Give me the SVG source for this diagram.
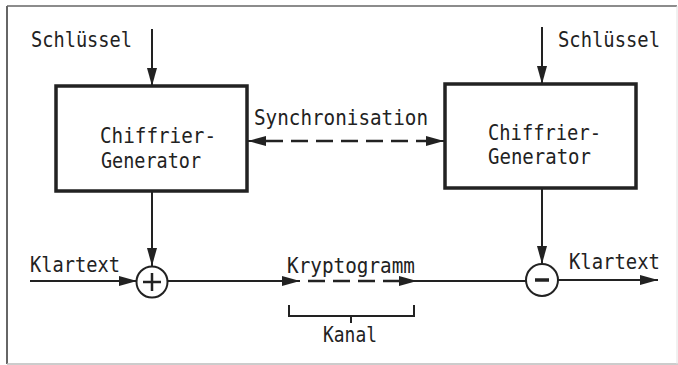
<svg xmlns="http://www.w3.org/2000/svg" width="678" height="365" viewBox="0 0 678 365">
<defs>
<marker id="ah" viewBox="0 0 18 10" refX="18" refY="5" markerWidth="18" markerHeight="10" markerUnits="userSpaceOnUse" orient="auto">
<path d="M0,0 L18,5 L0,10 Z" fill="#222"/>
</marker>
</defs>
<style>
.t{font-family:"DejaVu Sans Mono","Liberation Mono",monospace;font-size:21px;fill:#222}
.ln{stroke:#222;stroke-width:2;fill:none}
.box{stroke:#222;stroke-width:3.5;fill:#fff}
.dash{stroke:#222;stroke-width:2.5;fill:none;stroke-dasharray:17 8}
.frame{stroke:#666;fill:none}
</style>
<rect width="678" height="365" fill="#fff"/>
<g id="frame">
<line class="frame" x1="7" y1="6" x2="677" y2="6" stroke-width="1.5"/>
<line class="frame" x1="7" y1="6" x2="7" y2="364" stroke-width="2"/>
<line x1="7" y1="364" x2="678" y2="364" stroke="#bbb" stroke-width="1.5"/>
<line x1="677" y1="6" x2="677" y2="364" stroke="#e2e2e2" stroke-width="1"/>
</g>
<g id="connectors">
<line class="ln" x1="152" y1="29" x2="152" y2="86" marker-end="url(#ah)"/>
<line class="ln" x1="542" y1="27" x2="542" y2="84" marker-end="url(#ah)"/>
<line class="ln" x1="152" y1="191" x2="152" y2="266" marker-end="url(#ah)"/>
<line class="ln" x1="542" y1="188" x2="542" y2="264" marker-end="url(#ah)"/>
<line class="ln" x1="30" y1="281" x2="137" y2="281" marker-end="url(#ah)"/>
<line class="ln" x1="168" y1="281" x2="300" y2="281" marker-end="url(#ah)"/>
<line class="dash" x1="308" y1="281" x2="400" y2="281" stroke-width="2" stroke-dasharray="10 7"/>
<line class="ln" x1="402" y1="281" x2="417" y2="281" marker-end="url(#ah)"/>
<line class="ln" x1="415" y1="281" x2="526" y2="281"/>
<line class="ln" x1="558" y1="280" x2="658" y2="280" marker-end="url(#ah)"/>
<line class="dash" x1="266" y1="141" x2="428" y2="141"/>
<line class="ln" x1="262" y1="141" x2="248" y2="141" marker-end="url(#ah)" stroke-width="2.5"/>
<line class="ln" x1="430" y1="141" x2="444" y2="141" marker-end="url(#ah)" stroke-width="2.5"/>
<path class="ln" d="M289,305 V316 H414 V305 M351,316 V323"/>
</g>
<g id="keyL"><text class="t" x="31" y="47" textLength="101" lengthAdjust="spacingAndGlyphs">Schlüssel</text></g>
<g id="keyR"><text class="t" x="558" y="47" textLength="102" lengthAdjust="spacingAndGlyphs">Schlüssel</text></g>
<g id="genL">
<rect class="box" x="56" y="86" width="191" height="105"/>
<text class="t" x="100" y="143" textLength="116" lengthAdjust="spacingAndGlyphs">Chiffrier-</text>
<text class="t" x="101" y="168" textLength="100" lengthAdjust="spacingAndGlyphs">Generator</text>
</g>
<g id="genR">
<rect class="box" x="445" y="84" width="191" height="104"/>
<text class="t" x="488" y="140" textLength="113" lengthAdjust="spacingAndGlyphs">Chiffrier-</text>
<text class="t" x="488" y="164" textLength="103" lengthAdjust="spacingAndGlyphs">Generator</text>
</g>
<g id="sync"><text class="t" x="254" y="125" textLength="174" lengthAdjust="spacingAndGlyphs">Synchronisation</text></g>
<g id="plus">
<circle cx="152" cy="282" r="15.5" fill="#fff" stroke="#222" stroke-width="2"/>
<path d="M143,282 H161 M152,273 V291" stroke="#222" stroke-width="2.5"/>
</g>
<g id="minus">
<circle cx="542" cy="280" r="16" fill="#fff" stroke="#222" stroke-width="2"/>
<path d="M535,280 H549" stroke="#222" stroke-width="3.5"/>
</g>
<g id="klarL"><text class="t" x="30" y="272" textLength="90" lengthAdjust="spacingAndGlyphs">Klartext</text></g>
<g id="klarR"><text class="t" x="569" y="269" textLength="91" lengthAdjust="spacingAndGlyphs">Klartext</text></g>
<g id="krypto"><text class="t" x="287" y="273" textLength="128" lengthAdjust="spacingAndGlyphs">Kryptogramm</text></g>
<g id="kanal"><text class="t" x="323" y="342" textLength="54" lengthAdjust="spacingAndGlyphs">Kanal</text></g>
</svg>
